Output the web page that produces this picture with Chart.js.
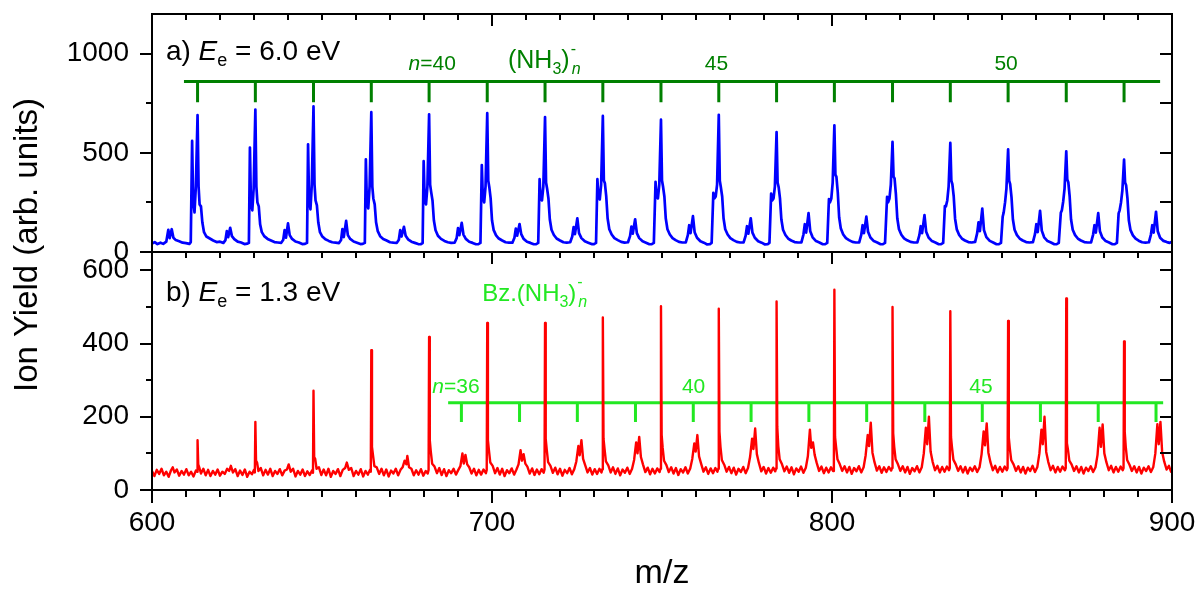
<!DOCTYPE html>
<html>
<head>
<meta charset="utf-8">
<title>Ion yield vs m/z</title>
<script src="https://cdn.jsdelivr.net/npm/chart.js@4.4.1/dist/chart.umd.min.js"></script>
<style>
  html, body { margin: 0; padding: 0; background: #fff; }
</style>
</head>
<body>
<canvas id="myChart" width="1200" height="594"></canvas>
<script>
// tick labels
const mzTicks = [600, 700, 800, 900];
const topYTicks = [0, 500, 1000];
const botYTicks = [0, 200, 400, 600];

// (NH3)n- cluster positions, n = 36..52
const nh3Ladder = [613.4, 630.4, 647.5, 664.5, 681.5, 698.6, 715.6, 732.6, 749.7,
                   766.7, 783.7, 800.7, 817.8, 834.8, 851.8, 868.9, 885.9];
// Bz.(NH3)n- positions, n = 36..48
const bzLadder = [691.0, 708.1, 725.1, 742.2, 759.2, 776.2, 793.2, 810.2, 827.3,
                  844.2, 861.3, 878.3, 895.3];

// a) Ee = 6.0 eV  [m/z, ion yield]
const blueSpectrum = [
  [600.0,42],[600.8,50],[601.6,40],[602.5,47],[603.3,41],[604.2,52],[604.8,112],[605.2,70],[605.8,115],[606.3,72],[607.0,60],[608.0,54],[609.0,47],[610.0,45],[611.0,41],[611.4,50],
  [611.8,560],[612.1,260],[612.5,200],[612.9,330],[613.4,690],[613.7,330],[614.0,240],[614.4,230],[614.8,150],[615.3,100],[616.0,78],[617.0,68],[618.0,58],[619.0,50],[620.0,52],[621.0,46],[621.6,60],[622.0,105],[622.4,75],[623.0,122],[623.5,80],[624.2,65],[625.2,52],[626.2,48],[627.2,40],[628.0,42],[628.5,46],
  [628.8,527],[629.1,250],[629.5,210],[629.9,320],[630.4,718],[630.7,330],[631.0,250],[631.4,230],[631.8,140],[632.3,100],[633.0,80],[634.0,66],[635.0,58],[636.0,50],[637.0,48],[638.0,46],[638.6,62],[639.0,110],[639.4,72],[640.0,144],[640.5,85],[641.2,66],[642.2,53],[643.2,48],[644.2,40],[645.0,41],[645.6,46],
  [645.9,543],[646.2,260],[646.6,215],[647.0,340],[647.5,734],[647.8,340],[648.1,260],[648.5,235],[648.9,150],[649.4,100],[650.1,78],[651.0,64],[652.0,56],[653.0,49],[654.0,47],[655.0,45],[655.6,60],[656.0,115],[656.4,75],[657.1,157],[657.6,85],[658.3,66],[659.3,53],[660.3,47],[661.3,40],[662.0,41],[662.6,46],
  [662.9,467],[663.2,250],[663.6,220],[664.0,330],[664.5,705],[664.8,330],[665.1,270],[665.5,240],[665.9,150],[666.4,105],[667.1,80],[668.0,66],[669.0,58],[670.0,49],[671.0,47],[672.0,46],[672.6,62],[673.0,110],[673.4,78],[674.1,127],[674.6,82],[675.3,64],[676.3,52],[677.3,46],[678.3,40],[679.0,39],[679.6,45],
  [679.9,458],[680.2,270],[680.6,240],[681.0,330],[681.5,694],[681.8,340],[682.1,303],[682.5,260],[682.9,160],[683.4,110],[684.1,82],[685.0,66],[686.0,56],[687.0,49],[688.0,46],[689.0,47],[689.6,70],[690.0,120],[690.4,85],[691.1,147],[691.6,88],[692.3,66],[693.3,52],[694.3,46],[695.3,39],[696.0,40],[696.6,46],
  [697.0,438],[697.3,280],[697.7,250],[698.1,330],[698.6,700],[698.9,360],[699.2,328],[699.6,270],[700.0,160],[700.5,110],[701.2,84],[702.0,68],[703.0,58],[704.0,49],[705.0,47],[706.0,47],[706.6,72],[707.0,118],[707.4,82],[708.1,141],[708.6,90],[709.3,66],[710.3,52],[711.3,46],[712.3,39],[713.0,40],[713.6,46],
  [714.0,367],[714.3,270],[714.7,260],[715.1,330],[715.6,680],[715.9,350],[716.2,320],[716.6,270],[717.0,165],[717.5,112],[718.2,86],[719.0,68],[720.0,58],[721.0,49],[722.0,47],[723.0,49],[723.6,78],[724.0,125],[724.4,90],[725.1,170],[725.6,95],[726.3,70],[727.3,54],[728.3,47],[729.3,40],[730.0,40],[730.6,46],
  [731.0,367],[731.3,280],[731.7,265],[732.1,340],[732.6,686],[732.9,360],[733.2,347],[733.6,280],[734.0,170],[734.5,115],[735.2,88],[736.0,70],[737.0,60],[738.0,51],[739.0,47],[740.0,49],[740.6,80],[741.0,128],[741.4,92],[742.1,165],[742.6,95],[743.3,70],[744.3,54],[745.3,47],[746.3,39],[747.0,40],[747.6,46],
  [748.1,354],[748.4,280],[748.8,270],[749.2,340],[749.7,667],[750.0,360],[750.3,330],[750.7,280],[751.1,170],[751.6,115],[752.3,88],[753.1,70],[754.0,60],[755.0,51],[756.0,48],[757.0,49],[757.6,85],[758.0,135],[758.4,95],[759.1,181],[759.6,100],[760.3,72],[761.3,54],[762.3,47],[763.3,38],[764.0,39],[764.6,46],
  [765.1,298],[765.4,270],[765.8,280],[766.2,340],[766.7,692],[767.0,360],[767.3,328],[767.7,280],[768.1,170],[768.6,115],[769.3,88],[770.1,70],[771.0,60],[772.0,51],[773.0,48],[774.0,49],[774.6,82],[775.0,130],[775.4,92],[776.1,170],[776.6,98],[777.3,72],[778.3,54],[779.3,47],[780.3,38],[781.0,39],[781.6,46],
  [782.1,295],[782.4,260],[782.8,270],[783.2,330],[783.7,605],[784.0,350],[784.3,328],[784.7,270],[785.1,165],[785.6,112],[786.3,86],[787.1,68],[788.0,58],[789.0,50],[790.0,48],[791.0,49],[791.6,88],[792.0,140],[792.4,98],[793.1,196],[793.6,105],[794.3,74],[795.3,55],[796.3,48],[797.3,39],[798.0,40],[798.6,46],
  [799.1,267],[799.4,250],[799.8,270],[800.2,350],[800.7,639],[801.0,390],[801.3,379],[801.7,300],[802.1,175],[802.6,118],[803.3,88],[804.1,70],[805.0,60],[806.0,51],[807.0,48],[808.0,49],[808.6,86],[809.0,135],[809.4,95],[810.1,178],[810.6,102],[811.3,73],[812.3,55],[813.3,48],[814.3,39],[815.0,40],[815.6,46],
  [816.2,278],[816.5,250],[816.9,270],[817.3,340],[817.8,555],[818.1,380],[818.4,371],[818.8,290],[819.2,170],[819.7,115],[820.4,87],[821.2,69],[822.1,59],[823.1,51],[824.1,48],[825.1,49],[825.7,85],[826.1,130],[826.5,95],[827.2,186],[827.7,102],[828.4,73],[829.4,55],[830.4,48],[831.4,39],[832.1,40],[832.7,46],
  [833.2,231],[833.5,230],[833.9,260],[834.3,330],[834.8,550],[835.1,360],[835.4,342],[835.8,280],[836.2,168],[836.7,114],[837.4,86],[838.2,68],[839.1,58],[840.1,50],[841.1,48],[842.1,51],[842.7,95],[843.1,150],[843.5,105],[844.2,219],[844.7,110],[845.4,75],[846.4,56],[847.4,48],[848.4,39],[849.1,40],[849.7,46],
  [850.2,178],[850.5,200],[850.9,250],[851.3,320],[851.8,518],[852.1,360],[852.4,342],[852.8,275],[853.2,165],[853.7,112],[854.4,85],[855.2,68],[856.1,58],[857.1,50],[858.1,48],[859.1,50],[859.7,90],[860.1,140],[860.5,100],[861.2,208],[861.7,108],[862.4,74],[863.4,55],[864.4,48],[865.4,39],[866.1,40],[866.7,46],
  [867.3,198],[867.6,210],[868.0,255],[868.4,320],[868.9,508],[869.2,365],[869.5,352],[869.9,280],[870.3,165],[870.8,112],[871.5,85],[872.3,68],[873.2,58],[874.2,50],[875.2,48],[876.2,49],[876.8,88],[877.2,135],[877.6,98],[878.3,196],[878.8,105],[879.5,73],[880.5,55],[881.5,48],[882.5,39],[883.2,40],[883.8,46],
  [884.3,195],[884.6,210],[885.0,250],[885.4,310],[885.9,466],[886.2,350],[886.5,337],[886.9,270],[887.3,160],[887.8,110],[888.5,84],[889.3,67],[890.2,57],[891.2,49],[892.2,47],[893.2,49],[893.8,88],[894.2,135],[894.6,98],[895.3,203],[895.8,105],[896.5,72],[897.5,56],[898.5,50],[899.3,46],[900.0,52]
];

// b) Ee = 1.3 eV  [m/z, ion yield]
const redSpectrum = [
  [600.0,52],[600.7,38],[601.4,55],[602.1,44],[602.8,58],[603.5,40],[604.2,50],[604.9,36],[605.6,54],[606.1,62],[606.6,48],[607.3,56],[608.0,39],[608.7,52],[609.4,42],[610.1,57],[610.8,40],[611.5,50],[612.2,37],[612.9,53],
  [613.25,50],[613.4,136],[613.6,70],[613.9,62],[614.4,45],[615.1,58],[615.8,40],[616.5,55],[617.2,38],[617.9,52],[618.6,42],[619.3,56],[620.0,39],[620.7,50],[621.4,44],[622.1,58],[622.7,52],[623.2,66],[623.8,48],[624.5,57],[625.2,38],[625.9,53],[626.6,41],[627.3,56],[628.0,36],[628.7,50],[629.4,43],[630.0,55],
  [630.25,48],[630.4,186],[630.6,80],[630.9,75],[631.3,52],[632.0,60],[632.7,40],[633.4,55],[634.1,42],[634.8,58],[635.5,38],[636.2,52],[636.9,44],[637.6,57],[638.3,40],[639.0,53],[639.7,56],[640.2,70],[640.8,50],[641.5,58],[642.2,37],[642.9,52],[643.6,42],[644.3,56],[645.0,38],[645.7,51],[646.4,41],[647.1,54],
  [647.35,47],[647.5,271],[647.7,90],[648.0,85],[648.4,58],[649.1,62],[649.8,41],[650.5,56],[651.2,40],[651.9,58],[652.6,36],[653.3,52],[654.0,44],[654.7,57],[655.4,38],[656.1,55],[656.8,60],[657.3,75],[657.9,55],[658.6,60],[659.3,38],[660.0,52],[660.7,42],[661.4,57],[662.1,37],[662.8,52],[663.5,42],[664.1,55],
  [664.35,50],[664.5,382],[664.7,118],[665.0,95],[665.4,65],[666.1,62],[666.8,44],[667.5,58],[668.2,40],[668.9,56],[669.6,37],[670.3,53],[671.0,45],[671.7,58],[672.4,40],[673.1,55],[673.7,62],[674.3,80],[674.8,70],[675.1,93],[675.6,62],[676.3,58],[677.0,40],[677.7,54],[678.4,42],[679.1,57],[679.8,39],[680.5,52],[681.1,45],
  [681.35,55],[681.5,418],[681.7,136],[682.0,105],[682.4,72],[683.1,64],[683.8,46],[684.5,60],[685.2,41],[685.9,57],[686.6,38],[687.3,54],[688.0,46],[688.7,58],[689.4,42],[690.1,55],[690.7,65],[691.3,100],[691.7,72],[692.2,96],[692.7,70],[693.3,62],[694.0,45],[694.7,58],[695.4,40],[696.1,55],[696.8,42],[697.5,56],[698.2,46],
  [698.45,55],[698.6,456],[698.8,136],[699.1,108],[699.5,75],[700.2,66],[700.9,46],[701.6,60],[702.3,42],[703.0,58],[703.7,38],[704.4,54],[705.1,46],[705.8,59],[706.5,42],[707.2,56],[707.8,70],[708.4,109],[708.8,80],[709.3,98],[709.8,72],[710.4,64],[711.1,45],[711.8,59],[712.5,41],[713.2,56],[713.9,43],[714.6,57],[715.2,47],
  [715.45,56],[715.6,456],[715.8,140],[716.1,110],[716.5,76],[717.2,66],[717.9,47],[718.6,61],[719.3,43],[720.0,58],[720.7,39],[721.4,55],[722.1,46],[722.8,60],[723.5,43],[724.2,57],[724.8,78],[725.4,120],[725.8,95],[726.3,136],[726.8,85],[727.4,68],[728.1,48],[728.8,60],[729.5,42],[730.2,57],[730.9,44],[731.6,58],[732.2,48],
  [732.45,57],[732.6,471],[732.8,140],[733.1,112],[733.5,78],[734.2,67],[734.9,48],[735.6,62],[736.3,44],[737.0,59],[737.7,40],[738.4,56],[739.1,47],[739.8,61],[740.5,44],[741.2,58],[741.8,82],[742.4,130],[742.8,100],[743.3,145],[743.8,90],[744.4,70],[745.1,49],[745.8,61],[746.5,43],[747.2,58],[747.9,45],[748.6,59],[749.3,49],
  [749.55,58],[749.7,502],[749.9,150],[750.2,115],[750.6,80],[751.3,68],[752.0,49],[752.7,62],[753.4,45],[754.1,60],[754.8,41],[755.5,57],[756.2,48],[756.9,62],[757.6,45],[758.3,59],[758.9,85],[759.5,127],[759.9,105],[760.4,150],[760.9,92],[761.5,72],[762.2,50],[762.9,62],[763.6,44],[764.3,59],[765.0,46],[765.7,60],[766.3,50],
  [766.55,58],[766.7,495],[766.9,159],[767.2,118],[767.6,82],[768.3,69],[769.0,50],[769.7,63],[770.4,46],[771.1,61],[771.8,42],[772.5,58],[773.2,49],[773.9,63],[774.6,46],[775.3,60],[775.9,90],[776.5,140],[776.9,112],[777.4,168],[777.9,98],[778.5,74],[779.2,51],[779.9,63],[780.6,45],[781.3,60],[782.0,47],[782.7,61],[783.3,51],
  [783.55,59],[783.7,515],[783.9,173],[784.2,120],[784.6,84],[785.3,70],[786.0,51],[786.7,64],[787.4,47],[788.1,62],[788.8,43],[789.5,59],[790.2,50],[790.9,64],[791.6,47],[792.3,61],[792.9,92],[793.5,165],[793.9,115],[794.4,130],[794.9,96],[795.5,74],[796.2,52],[796.9,64],[797.6,46],[798.3,61],[799.0,48],[799.7,62],[800.3,52],
  [800.55,60],[800.7,547],[800.9,145],[801.2,118],[801.6,84],[802.3,70],[803.0,52],[803.7,65],[804.4,48],[805.1,63],[805.8,44],[806.5,60],[807.2,51],[807.9,65],[808.6,48],[809.3,62],[809.9,95],[810.5,150],[810.9,120],[811.4,184],[811.9,102],[812.5,76],[813.2,53],[813.9,65],[814.6,47],[815.3,62],[816.0,49],[816.7,63],[817.4,53],
  [817.65,60],[817.8,500],[818.0,155],[818.3,118],[818.7,84],[819.4,70],[820.1,52],[820.8,65],[821.5,48],[822.2,63],[822.9,44],[823.6,60],[824.3,51],[825.0,65],[825.7,48],[826.4,62],[827.0,100],[827.6,170],[828.0,125],[828.5,200],[829.0,105],[829.6,77],[830.3,54],[831.0,66],[831.7,48],[832.4,63],[833.1,50],[833.8,64],[834.4,54],
  [834.65,60],[834.8,488],[835.0,145],[835.3,116],[835.7,83],[836.4,70],[837.1,52],[837.8,65],[838.5,48],[839.2,63],[839.9,45],[840.6,61],[841.3,52],[842.0,65],[842.7,49],[843.4,62],[844.0,98],[844.6,160],[845.0,122],[845.5,182],[846.0,102],[846.6,76],[847.3,54],[848.0,66],[848.7,48],[849.4,63],[850.1,50],[850.8,64],[851.4,54],
  [851.65,60],[851.8,462],[852.0,143],[852.3,114],[852.7,82],[853.4,70],[854.1,52],[854.8,65],[855.5,48],[856.2,63],[856.9,45],[857.6,61],[858.3,52],[859.0,66],[859.7,49],[860.4,63],[861.0,100],[861.6,165],[862.0,125],[862.5,200],[863.0,104],[863.6,77],[864.3,54],[865.0,66],[865.7,48],[866.4,63],[867.1,50],[867.8,64],[868.5,54],
  [868.75,60],[868.9,523],[869.1,128],[869.4,110],[869.8,80],[870.5,69],[871.2,52],[871.9,65],[872.6,48],[873.3,63],[874.0,45],[874.7,61],[875.4,52],[876.1,65],[876.8,49],[877.5,62],[878.1,96],[878.7,170],[879.1,118],[879.6,179],[880.1,100],[880.7,76],[881.4,54],[882.1,66],[882.8,48],[883.5,63],[884.2,50],[884.9,64],[885.5,54],
  [885.75,60],[885.9,406],[886.1,159],[886.4,118],[886.8,82],[887.5,69],[888.2,52],[888.9,65],[889.6,48],[890.3,63],[891.0,45],[891.7,61],[892.4,52],[893.1,65],[893.8,49],[894.5,63],[895.1,100],[895.7,180],[896.1,125],[896.6,186],[897.1,104],[897.7,78],[898.4,56],[899.1,66],[899.7,50],[900.0,55]
];

const FONT = '"Liberation Sans", Arial, sans-serif';
const darkGreen = '#008000';
const lightGreen = '#22e822';

Chart.defaults.font.family = FONT;
Chart.defaults.color = '#000';

const toXY = arr => arr.map(([x, y]) => ({x, y}));

// horizontal bar with a short drop line at every cluster position
function ladder(pos, x0, x1, yLine, yEnd) {
  const pts = [{x: x0, y: yLine}, {x: x1, y: yLine}, {x: x1, y: null}];
  pos.forEach(m => pts.push({x: m, y: yLine}, {x: m, y: yEnd}, {x: m, y: null}));
  return pts;
}

// draws a run of text pieces (plain / italic / sub / sup) starting at x
function drawRich(ctx, x, y, parts, color, align) {
  ctx.fillStyle = color;
  ctx.textBaseline = 'alphabetic';
  ctx.textAlign = 'left';
  const fontOf = p => (p.italic ? 'italic ' : '') + p.size + 'px ' + FONT;
  let total = 0;
  parts.forEach(p => { ctx.font = fontOf(p); total += ctx.measureText(p.t).width + (p.dx || 0); });
  let cx = align === 'center' ? x - total / 2 : x;
  parts.forEach(p => {
    ctx.font = fontOf(p);
    cx += p.dx || 0;
    ctx.fillText(p.t, cx, y + (p.dy || 0));
    if (!p.overlap) cx += ctx.measureText(p.t).width;
  });
}

const framePlugin = {
  id: 'frames',
  afterDatasetsDraw(chart) {
    const {ctx} = chart;
    const {x, yTop, yBot} = chart.scales;
    ctx.save();
    ctx.strokeStyle = '#000';
    ctx.lineWidth = 2;
    ctx.lineCap = 'butt';
    ctx.strokeRect(x.left, yTop.top, x.right - x.left, yTop.bottom - yTop.top);
    ctx.strokeRect(x.left, yBot.top, x.right - x.left, yBot.bottom - yBot.top);

    const line = (x0, y0, x1, y1) => { ctx.beginPath(); ctx.moveTo(x0, y0); ctx.lineTo(x1, y1); ctx.stroke(); };

    // m/z ticks: outward at the bottom, inward at the top of each panel
    for (let v = 600; v <= 900; v += 10) {
      const px = Math.round(x.getPixelForValue(v));
      const major = v % 100 === 0;
      line(px, yBot.bottom, px, yBot.bottom + (major ? 13 : 7));
      line(px, yBot.top, px, yBot.top + (major ? 12 : 6));
      line(px, yTop.top, px, yTop.top + (major ? 12 : 6));
    }
    // intensity ticks
    for (let v = 0; v <= 1000; v += 250) {
      const py = Math.round(yTop.getPixelForValue(v));
      line(x.left, py, x.left - (v % 500 === 0 ? 12 : 6), py);
      if (v > 0) line(x.right, py, x.right - 12, py);
    }
    for (let v = 0; v <= 600; v += 100) {
      const py = Math.round(yBot.getPixelForValue(v));
      line(x.left, py, x.left - (v % 200 === 0 ? 12 : 6), py);
      if (v > 0) line(x.right, py, x.right - 12, py);
    }

    // panel labels
    const big = 28, sub = 18;
    drawRich(ctx, x.getPixelForValue(604.1), yTop.getPixelForValue(967), [
      {t: 'a) ', size: big}, {t: 'E', size: big, italic: true}, {t: 'e', size: sub, dy: 6},
      {t: ' = 6.0 eV', size: big}], '#000');
    drawRich(ctx, x.getPixelForValue(604.1), yBot.getPixelForValue(517), [
      {t: 'b) ', size: big}, {t: 'E', size: big, italic: true}, {t: 'e', size: sub, dy: 6},
      {t: ' = 1.3 eV', size: big}], '#000');

    // (NH3)n- series labels
    const lab = 21;
    drawRich(ctx, x.getPixelForValue(682.4), yTop.getPixelForValue(916),
      [{t: 'n', size: lab, italic: true}, {t: '=40', size: lab}], darkGreen, 'center');
    drawRich(ctx, x.getPixelForValue(766.0), yTop.getPixelForValue(916), [{t: '45', size: lab}], darkGreen, 'center');
    drawRich(ctx, x.getPixelForValue(851.2), yTop.getPixelForValue(916), [{t: '50', size: lab}], darkGreen, 'center');
    drawRich(ctx, x.getPixelForValue(704.7), yTop.getPixelForValue(930), [
      {t: '(NH', size: 25}, {t: '3', size: 16, dy: 6}, {t: ')', size: 25},
      {t: '-', size: 16, dy: -14, dx: 1, overlap: true}, {t: 'n', size: 16, italic: true, dy: 6, dx: 1}], darkGreen);

    // Bz.(NH3)n- series labels
    drawRich(ctx, x.getPixelForValue(689.4), yBot.getPixelForValue(266),
      [{t: 'n', size: lab, italic: true}, {t: '=36', size: lab}], lightGreen, 'center');
    drawRich(ctx, x.getPixelForValue(759.3), yBot.getPixelForValue(266), [{t: '40', size: lab}], lightGreen, 'center');
    drawRich(ctx, x.getPixelForValue(843.8), yBot.getPixelForValue(266), [{t: '45', size: lab}], lightGreen, 'center');
    drawRich(ctx, x.getPixelForValue(697.1), yBot.getPixelForValue(517), [
      {t: 'Bz.(NH', size: 24}, {t: '3', size: 16, dy: 6}, {t: ')', size: 24},
      {t: '-', size: 16, dy: -14, dx: 1, overlap: true}, {t: 'n', size: 16, italic: true, dy: 6, dx: 1}], lightGreen);

    // shared intensity title
    ctx.save();
    ctx.translate(28, yTop.top + 231);
    ctx.rotate(-Math.PI / 2);
    ctx.font = '33px ' + FONT;
    ctx.fillStyle = '#000';
    ctx.textAlign = 'center';
    ctx.textBaseline = 'middle';
    ctx.fillText('Ion Yield (arb. units)', 0, 0);
    ctx.restore();

    ctx.restore();
  }
};

const tickFont = {size: 28, family: FONT};
const yAxis = (min, max, labels) => ({
  type: 'linear',
  position: 'left',
  stack: 'ion',
  stackWeight: 1,
  min: min,
  max: max,
  afterBuildTicks: s => { s.ticks = labels.map(v => ({value: v})); },
  afterFit: s => { s.width = 152; s.paddingTop = 0; s.paddingBottom = 0; },
  grid: {display: false, drawTicks: true, tickLength: 12},
  border: {display: false},
  ticks: {font: tickFont, color: '#000', padding: 11, callback: v => String(v)}
});

const line = {pointRadius: 0, tension: 0, borderJoinStyle: 'round', spanGaps: false};

new Chart(document.getElementById('myChart'), {
  type: 'line',
  data: {
    datasets: [
      {...line, label: 'Ee = 6.0 eV', data: toXY(blueSpectrum), yAxisID: 'yTop', borderColor: '#0000ff', borderWidth: 2.7, order: 0},
      {...line, label: 'Ee = 1.3 eV', data: toXY(redSpectrum), yAxisID: 'yBot', borderColor: '#ff0000', borderWidth: 2.4, order: 0},
      {...line, label: '(NH3)n-', data: ladder(nh3Ladder, 609.4, 896.5, 860, 755), yAxisID: 'yTop', borderColor: darkGreen, borderWidth: 3, borderCapStyle: 'butt', borderJoinStyle: 'miter', order: 1},
      {...line, label: 'Bz.(NH3)n-', data: ladder(bzLadder, 687.1, 897.4, 238, 186), yAxisID: 'yBot', borderColor: lightGreen, borderWidth: 3, borderCapStyle: 'butt', borderJoinStyle: 'miter', order: 1}
    ]
  },
  options: {
    responsive: false,
    animation: false,
    layout: {padding: {top: 14, right: 28, bottom: 0, left: 0}},
    plugins: {legend: {display: false}, tooltip: {enabled: false}},
    scales: {
      x: {
        type: 'linear',
        position: 'bottom',
        min: 600,
        max: 900,
        afterBuildTicks: s => { s.ticks = mzTicks.map(v => ({value: v})); },
        afterFit: s => { s.height = 104; s.paddingLeft = 0; s.paddingRight = 0; },
        grid: {display: false, drawTicks: true, tickLength: 13},
        border: {display: false},
        ticks: {font: tickFont, color: '#000', padding: 3, maxRotation: 0, callback: v => String(v)},
        title: {display: true, text: 'm/z', font: {size: 34, family: FONT}, color: '#000', padding: {top: 0, bottom: 0}}
      },
      yBot: yAxis(0, 650, botYTicks),
      yTop: yAxis(0, 1200, topYTicks)
    }
  },
  plugins: [framePlugin]
});
</script>
</body>
</html>
